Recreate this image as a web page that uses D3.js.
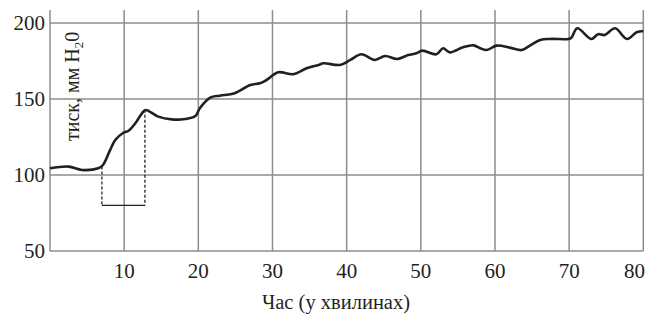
<!DOCTYPE html>
<html>
<head>
<meta charset="utf-8">
<style>
body { margin: 0; background: #fff; }
text { font-family: "Liberation Serif", "DejaVu Serif", serif; fill: #231f20; }
.grid line { stroke: #8c8c8c; stroke-width: 1.5; }
</style>
<script src="https://cdn.jsdelivr.net/npm/d3@7"></script>
</head>
<body>
<div id="chart"></div>
<script>
// time in minutes and pressure
var time = [0, 2.5, 4.3, 6.5, 7.15, 8.1, 8.8, 9.9, 10.6, 11.5, 12.4, 12.9, 14.6, 16.4, 18.2, 19.6,
  20.2, 21.6, 22.9, 24.9, 27.0, 28.3, 29.2, 30.8, 32.8, 34.6, 36.2, 36.9, 39.1, 40.5, 42.0, 43.8,
  45.2, 46.8, 48.3, 49.4, 50.2, 52.1, 53.0, 53.9, 55.7, 57.1, 58.0, 58.9, 60.2, 62.0, 63.6, 64.7,
  66.1, 67.4, 69.9, 70.3, 71.1, 73.0, 73.9, 74.8, 76.2, 77.8, 79.1, 80];
var pressure = [104.4, 105.5, 103.3, 104.4, 106.6, 116.4, 123, 127.8, 129.1, 134, 140.6, 142.8, 138.4, 136.6, 136.8, 138.8,
  143.9, 150.9, 152.2, 153.8, 159.2, 160.3, 162.5, 167.6, 166.3, 170.2, 172.4, 173.5, 172.4, 175.7, 179.4, 175.7,
  178.3, 176.3, 178.9, 180.1, 181.8, 179.4, 183.4, 180.7, 184, 185.3, 183.4, 182.2, 185.1, 183.8, 182.2, 185.1,
  188.8, 189.5, 189.5, 190.3, 196.5, 189.5, 192.6, 192.1, 196.5, 189.5, 193.9, 194.7];

var xTicks = [10, 20, 30, 40, 50, 60, 70, 80];
var yTicks = [50, 100, 150, 200];

// interval marker: start / end time, bottom level, top levels on the curve
var markTime = [7, 12.8];
var markTop = [105.6, 143];
var markLevel = 80;

var width = 646, height = 318;

var x = d3.scaleLinear().domain([0, 80]).range([50, 643.3]);
var y = d3.scaleLinear().domain([50, 200]).range([251, 23]);
var yTop = 208.5;

var svg = d3.select("#chart").append("svg")
    .attr("width", width)
    .attr("height", height);

var grid = svg.append("g").attr("class", "grid");

grid.selectAll(".v")
  .data([0].concat(xTicks))
  .enter().append("line")
    .attr("x1", function(d) { return x(d); })
    .attr("x2", function(d) { return x(d); })
    .attr("y1", y(yTop))
    .attr("y2", y(50));

grid.selectAll(".h")
  .data(yTicks)
  .enter().append("line")
    .attr("x1", x(0))
    .attr("x2", x(80))
    .attr("y1", function(d) { return y(d); })
    .attr("y2", function(d) { return y(d); });

svg.selectAll(".ylab")
  .data(yTicks)
  .enter().append("text")
    .attr("x", x(0) - 5)
    .attr("y", function(d) { return y(d); })
    .attr("dy", "0.35em")
    .attr("text-anchor", "end")
    .style("font-size", "21px")
    .text(function(d) { return d; });

// last label is pulled in so it stays inside the picture
svg.selectAll(".xlab")
  .data(xTicks)
  .enter().append("text")
    .attr("x", function(d, i) { return i == xTicks.length - 1 ? width - 1 : x(d); })
    .attr("y", 271)
    .attr("dy", "0.35em")
    .attr("text-anchor", function(d, i) { return i == xTicks.length - 1 ? "end" : "middle"; })
    .style("font-size", "21px")
    .text(function(d) { return d; });

svg.append("text")
    .attr("x", 336)
    .attr("y", 309)
    .attr("text-anchor", "middle")
    .style("font-size", "20.5px")
    .text("Час (у хвилинах)");

var ylab = svg.append("text")
    .attr("transform", "translate(78.5,141) rotate(-90)")
    .attr("text-anchor", "start")
    .style("font-size", "20px");
ylab.append("tspan").text("тиск, мм H");
ylab.append("tspan").attr("dy", 4).style("font-size", "13px").text("2");
ylab.append("tspan").attr("dy", -4).text("0");

// interval marker
svg.selectAll(".mark")
  .data(markTime)
  .enter().append("line")
    .attr("x1", function(d) { return x(d); })
    .attr("x2", function(d) { return x(d); })
    .attr("y1", function(d, i) { return y(markTop[i]); })
    .attr("y2", y(markLevel))
    .attr("stroke", "#231f20")
    .attr("stroke-width", 1.3)
    .attr("stroke-dasharray", "3,2");

svg.append("line")
    .attr("x1", x(markTime[0]))
    .attr("x2", x(markTime[1]))
    .attr("y1", y(markLevel))
    .attr("y2", y(markLevel))
    .attr("stroke", "#231f20")
    .attr("stroke-width", 1.3);

var line = d3.line()
    .x(function(d, i) { return x(time[i]); })
    .y(function(d) { return y(d); })
    .curve(d3.curveCatmullRom.alpha(0.5));

svg.append("path")
    .datum(pressure)
    .attr("fill", "none")
    .attr("stroke", "#231f20")
    .attr("stroke-width", 2.6)
    .attr("stroke-linejoin", "round")
    .attr("d", line);
</script>
</body>
</html>
